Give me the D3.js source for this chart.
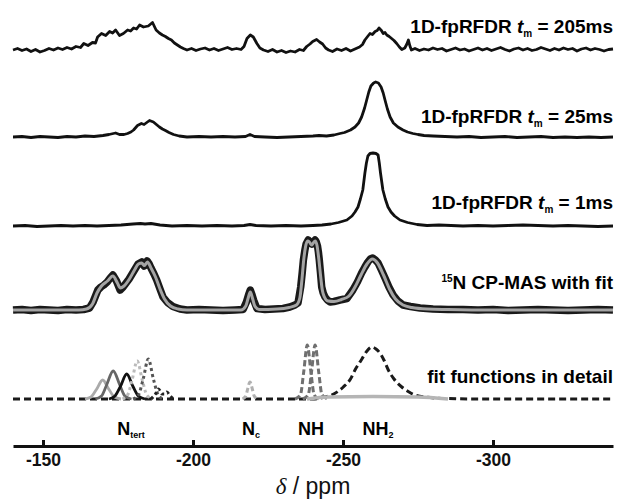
<!DOCTYPE html>
<html>
<head>
<meta charset="utf-8">
<script src="https://cdn.jsdelivr.net/npm/d3@7"></script>
<style>
  body { margin: 0; background: #fff; }
  svg { display: block; font-family: "Liberation Sans", Arial, sans-serif; }
</style>
</head>
<body>
<div id="chart"></div>
<script>
// chemical shift axis
const ppmDomain = [-140, -340];
const tickValues = [-150, -200, -250, -300];

// spectra: [ppm, intensity]
const spec205 = [[-140,0],[-141.5,1.5],[-143,-0.5],[-144.5,1],[-146,-1.5],[-147.5,0.5],[-149,-2],[-150.5,-0.5],[-152,1.5],[-153.5,0],[-155,2],[-156.5,0.5],[-158,2.5],[-159.5,1],[-161,3.5],[-162.5,2.5],[-163.6,6.5],[-165,4.5],[-166.5,7.5],[-167.5,7],[-168.2,13],[-169.5,16.5],[-170.9,14.5],[-172.2,18.5],[-173.2,17],[-174.2,20],[-175.5,14.5],[-176.8,16.5],[-178.2,20],[-179.2,19],[-180.2,22],[-181.2,21],[-182.2,25],[-183.5,23],[-185.1,24],[-186.5,27.5],[-187.7,20],[-188.8,17],[-189.8,15],[-190.8,13.5],[-191.8,11.5],[-192.8,10],[-193.8,7],[-194.8,5],[-195.8,3],[-196.8,1.5],[-198,0],[-199.5,1.5],[-201,-0.5],[-202.5,1],[-204,2],[-205.5,0],[-207,1.5],[-208.5,-0.5],[-210,1],[-211.5,2.5],[-213,0.5],[-214.5,1.5],[-216,0.5],[-217,3.5],[-218,11.5],[-219.1,15],[-220.1,13],[-221.3,6.5],[-222.3,2],[-223.5,0],[-225,-1.5],[-226.5,0.5],[-228,-2],[-229.5,-0.5],[-231,-2.5],[-232.5,-1],[-234,-2],[-235.5,0.5],[-236.8,-0.5],[-237.9,3.5],[-239,6],[-239.9,8.5],[-241.2,10.5],[-242.2,8],[-243.2,6],[-244.2,2],[-245.2,0],[-246.5,-1.5],[-248,1],[-249.5,-0.5],[-251,1.5],[-252.5,-1],[-254,1],[-255.5,3],[-256.5,5.5],[-257.3,10],[-258.2,13.5],[-259,16.5],[-259.8,15.5],[-260.7,18.5],[-261.4,19.5],[-262,22],[-262.8,19.5],[-263.4,16.5],[-264,17.5],[-264.6,15],[-265.4,13.5],[-266.2,11.5],[-267,9.5],[-267.9,6.5],[-268.8,3],[-269.6,0.5],[-270.6,2],[-271.3,6],[-271.8,10],[-272.3,4],[-272.8,0],[-274,1.5],[-275.5,-0.5],[-277,1],[-278.5,0],[-280,2],[-281.5,0.5],[-283,1.5],[-284.5,-1],[-286,0.5],[-287.5,2],[-289,0],[-290.5,1],[-292,-1],[-293.5,0.5],[-295,2],[-296.5,0],[-298,1.5],[-299.5,-0.5],[-301,1],[-302.5,2.5],[-304,0.5],[-305.5,-1],[-307,1],[-308.5,2],[-310,0],[-311.5,1.5],[-313,-0.5],[-314.5,0.5],[-316,2.5],[-317.5,1],[-319,-0.5],[-320.5,1.5],[-322,0],[-323.5,2],[-325,0.5],[-326.5,1.5],[-328,-1],[-329.5,1],[-331,2],[-332.5,0],[-334,1.5],[-335.5,0.5],[-337,-1],[-338.5,0.5],[-340,1]];

const spec25 = [[-140,0],[-143,0.5],[-146,-0.5],[-149,0.5],[-152,0],[-155,-0.5],[-158,0.5],[-161,0],[-164,1],[-167,0.5],[-170,1.5],[-172,2.5],[-174.2,4],[-175.5,2.5],[-177,2.5],[-178.2,3.5],[-179.3,5],[-180.2,7],[-181.5,11.5],[-182.8,13.5],[-183.7,12.5],[-184.6,14.5],[-185.5,16.5],[-186.8,15],[-187.8,12.5],[-188.8,10],[-189.8,8],[-190.8,6.5],[-192,4.5],[-193.5,2.5],[-195.4,1],[-198,0],[-202,0.5],[-206,0],[-210,0.5],[-214,0],[-217.5,0.5],[-219,2.5],[-220.5,0.5],[-224,0],[-228,-0.5],[-232,0],[-236,0.5],[-240,1],[-242,1.5],[-244.5,1],[-247,2],[-249,3.5],[-250.5,4.5],[-252.5,7],[-254,10],[-255.2,14],[-256.2,20],[-257.2,29],[-257.9,37],[-258.6,45],[-259.3,51],[-260.2,54],[-260.9,55],[-261.8,54],[-262.7,50],[-263.4,44],[-264,37],[-264.8,28],[-265.7,20],[-266.8,14],[-268.3,10],[-270,7],[-271.5,5],[-273.3,3.5],[-275,2.5],[-277,1.5],[-280,1],[-284,0.5],[-288,0],[-292,0.5],[-296,-0.5],[-300,0],[-304,0.5],[-308,-0.5],[-312,0],[-316,0.5],[-320,-0.5],[-324,0],[-328,-0.5],[-332,0],[-336,-0.5],[-340,0]];

const spec1 = [[-140,0],[-144,0.5],[-148,-0.5],[-152,0],[-156,0.5],[-160,0],[-164,0.5],[-168,0],[-172,0.5],[-176,1],[-180,2],[-182.5,2.5],[-184,2],[-186,2.5],[-189,1],[-193,0],[-198,0.5],[-203,0],[-208,0.5],[-213,0],[-217,0.5],[-219,1.5],[-221,0.5],[-226,0],[-231,0.5],[-236,0],[-240,0.5],[-243,1],[-246,2],[-248.5,3.5],[-251.3,6],[-253,10],[-254,14],[-255,19],[-255.8,27],[-256.6,36],[-257.3,53],[-257.8,63],[-258.3,70],[-259,72.5],[-260,73],[-261,72.5],[-261.7,71],[-262.1,63],[-262.5,53],[-263.3,36],[-264.1,27],[-265,19],[-266,14],[-267.2,10],[-269,6],[-271.5,3.5],[-274.7,1.5],[-278,0.5],[-282,1],[-286,0.5],[-290,0],[-295,0.5],[-300,0],[-305,0.5],[-310,1],[-315,0.5],[-320,0],[-325,0.5],[-330,0],[-335,-0.5],[-340,0]];

const specCP = [[-140,0],[-143,0.5],[-146,-0.5],[-149,0.5],[-152,0],[-155,-0.5],[-158,0.5],[-161,0],[-163.5,0.5],[-165.5,2],[-166.7,8],[-167.5,14],[-168.3,20],[-169.3,23],[-170.3,25],[-171.4,28],[-172.4,32],[-173.3,35],[-174.5,29],[-175.7,20],[-176.7,23],[-177.7,27],[-178.7,31],[-179.7,36],[-180.7,41],[-181.7,46],[-182.9,48],[-183.7,44],[-184.7,49],[-185.4,46],[-186,42],[-187,36],[-187.9,30],[-189,21],[-190,13],[-191.5,7.5],[-193.3,3.5],[-195.7,1],[-198,0],[-202,0.5],[-206,0],[-210,-0.5],[-214,0],[-216.7,0.5],[-217.8,8],[-218.5,15],[-219.1,20],[-219.7,15],[-220.2,10],[-221.3,1.5],[-224,0.5],[-227,1],[-230,1.5],[-232.3,3],[-234,5],[-235,7],[-235.9,23],[-236.4,37],[-236.8,50],[-237.3,60],[-237.7,66],[-238.4,70],[-239,68],[-239.6,66],[-240.1,68],[-240.7,70],[-241.1,68],[-241.5,64],[-241.8,58],[-242.1,50],[-242.5,37],[-242.9,23],[-243.4,17],[-244,13],[-244.8,10],[-245.7,8],[-247,8.5],[-249,10],[-251.3,11.5],[-253.3,20],[-254.8,28],[-256.2,37],[-257.3,43],[-258.3,48],[-259.1,51],[-259.9,52],[-260.8,50],[-261.7,47],[-262.8,40],[-264,32],[-265.3,23],[-266.7,15],[-268.3,9],[-270,5],[-272.5,3.5],[-275.7,2],[-280,1],[-285,0.5],[-290,0.5],[-295,0],[-300,0.5],[-305,-0.5],[-310,0],[-315,0.5],[-320,0],[-325,-0.5],[-330,0],[-335,0.5],[-340,0]];

const cpFit = [[-140,0],[-162,0],[-164.5,1],[-166.5,6],[-168,17],[-169.5,24],[-171.5,29],[-173.3,34],[-174.8,27],[-175.8,22],[-177,24],[-178.8,31],[-180.5,40],[-181.8,46],[-182.9,47],[-183.8,44.5],[-184.8,48],[-186,42],[-187.5,33],[-189,21],[-190.5,11],[-192.5,4],[-195,1],[-198,0],[-216,0],[-217.6,4],[-218.3,11],[-219.1,18],[-219.9,11],[-220.6,4],[-222,0.5],[-228,1],[-232,2.5],[-234.5,5],[-235.6,12],[-236.3,30],[-236.9,50],[-237.5,63],[-238.2,69],[-238.8,68],[-239.5,65],[-240.1,67],[-240.7,69],[-241.3,65],[-241.9,52],[-242.5,35],[-243.1,20],[-243.8,13],[-245,9],[-247,8.5],[-249.5,10.5],[-252,14],[-254,23],[-256,35],[-258,46],[-259.8,51],[-261.5,47],[-263.5,35],[-265.5,21],[-267.5,11],[-270,5],[-273,2.5],[-278,1],[-285,0.5],[-300,0],[-340,0]];

// individual fit functions
const fitTert1 = [[-164,0],[-166,2],[-167.8,9.5],[-169.9,19],[-172,9.5],[-173.8,2],[-176,0]];
const fitTert2 = [[-167.5,0],[-169.5,3],[-171.2,14],[-173.4,28],[-175.6,14],[-177.3,3],[-179.5,0]];
const fitTert3 = [[-172,0],[-174,3],[-175.8,12.5],[-177.9,25],[-180,12.5],[-181.8,3],[-184,0]];
const fitTert4 = [[-176.5,0],[-178.2,4],[-179.7,19],[-181.4,38],[-183.1,19],[-184.6,4],[-186.5,0]];
const fitTert5 = [[-180,0],[-181.8,4],[-183.4,20],[-185.1,40],[-186.8,20],[-188.4,4],[-190,0]];
const fitTert6 = [[-186,0],[-187.5,5],[-188.5,10],[-189.7,5],[-190.5,5],[-191.3,7],[-192.3,3.5],[-193.5,0]];
const fitNc = [[-216.5,0],[-217.6,3],[-218.1,8.5],[-219,17],[-219.9,8.5],[-220.4,3],[-221.5,0]];
const fitNH1 = [[-234,0],[-235.8,4],[-236.9,27],[-238.1,54],[-239.3,27],[-240.4,4],[-242,0]];
const fitNH2 = [[-236.6,0],[-238.4,4],[-239.5,27],[-240.7,54],[-241.9,27],[-243,4],[-245,0]];
const fitAmino = [[-140,0],[-240,0],[-244,2],[-246.2,4],[-250.1,12],[-252.5,20],[-254,29],[-256.3,40],[-258,48],[-259.7,52],[-261,50],[-262.3,46],[-263.8,38],[-265.1,29],[-267,20],[-269.6,12],[-272,7],[-274,4],[-279,1.5],[-285,0.5],[-295,0],[-340,0]];
const fitBroad = [[-238,0],[-245,2],[-260,2.5],[-275,2],[-285,0]];

const traceLabels = ['205ms', '25ms', '1ms'];
const peakNames = [['N', 'tert'], ['N', 'c'], ['NH', ''], ['NH', '2']];
const peakPpm = [-179.3, -219.3, -239.3, -261.7];

// #region layout

const width = 624, height = 500;
const baselines = { t205: 50, t25: 137, t1: 226, cp: 310, fit: 399 };
const axisY = 446;

const x = d3.scaleLinear().domain(ppmDomain).range([13, 613]);

const svg = d3.select('#chart').append('svg')
  .attr('width', width)
  .attr('height', height);

function trace(points, base, color, strokeWidth, dash, curve) {
  const y = d3.scaleLinear().domain([0, 100]).range([base, base - 100]);
  const line = d3.line()
    .x(d => x(d[0]))
    .y(d => y(d[1]))
    .curve(curve || d3.curveLinear);
  svg.append('path')
    .datum(points)
    .attr('d', line)
    .attr('fill', 'none')
    .attr('stroke', color)
    .attr('stroke-width', strokeWidth)
    .attr('stroke-linejoin', 'round')
    .attr('stroke-dasharray', dash || null);
}

// #endregion

// stacked spectra
trace(spec205, baselines.t205, '#111', 2.8);
trace(spec25, baselines.t25, '#111', 2.8);
trace(spec1, baselines.t1, '#111', 2.8);
trace(specCP, baselines.cp, '#1a1a1a', 7.5);
trace(cpFit, baselines.cp, '#a4a4a4', 3, null, d3.curveMonotoneX);

// fit functions in detail
const smooth = d3.curveMonotoneX;
trace(fitAmino, baselines.fit, '#1a1a1a', 3, '7,4', smooth);
trace(fitNH1, baselines.fit, '#707070', 3, '6,3', smooth);
trace(fitNH2, baselines.fit, '#707070', 3, '6,3', smooth);
trace(fitNc, baselines.fit, '#b0b0b0', 3, '5,3', smooth);
trace(fitTert1, baselines.fit, '#aaaaaa', 2.8, null, smooth);
trace(fitTert2, baselines.fit, '#666666', 2.8, null, smooth);
trace(fitTert3, baselines.fit, '#111111', 2.8, null, smooth);
trace(fitTert4, baselines.fit, '#bbbbbb', 3, '3,3', smooth);
trace(fitTert5, baselines.fit, '#555555', 3, '3,3', smooth);
trace(fitTert6, baselines.fit, '#222222', 3, '3,3', smooth);
trace(fitBroad, baselines.fit, '#b5b5b5', 3.5, null, smooth);

// trace labels
const labelX = 613;
const labelFont = 19;

[baselines.t205 - 17, baselines.t25 - 14, baselines.t1 - 17].forEach((yy, i) => {
  const t = svg.append('text')
    .attr('x', labelX)
    .attr('y', yy)
    .attr('text-anchor', 'end')
    .attr('font-size', labelFont)
    .attr('font-weight', 'bold');
  t.append('tspan').text('1D-fpRFDR ');
  t.append('tspan').attr('font-style', 'italic').text('t');
  t.append('tspan').attr('font-size', 10).attr('dy', 4).text('m');
  t.append('tspan').attr('dy', -4).text(' = ' + traceLabels[i]);
});

const cpLabel = svg.append('text')
  .attr('x', labelX)
  .attr('y', baselines.cp - 21)
  .attr('text-anchor', 'end')
  .attr('font-size', labelFont)
  .attr('font-weight', 'bold');
cpLabel.append('tspan').attr('font-size', 10).attr('dy', -7).text('15');
cpLabel.append('tspan').attr('dy', 7).text('N CP-MAS with fit');

svg.append('text')
  .attr('x', labelX)
  .attr('y', baselines.fit - 16)
  .attr('text-anchor', 'end')
  .attr('font-size', labelFont)
  .attr('font-weight', 'bold')
  .text('fit functions in detail');

// peak assignments
peakNames.forEach((p, i) => {
  const t = svg.append('text')
    .attr('x', x(peakPpm[i]))
    .attr('y', axisY - 11)
    .attr('text-anchor', 'middle')
    .attr('font-size', 18)
    .attr('font-weight', 'bold');
  t.append('tspan').text(p[0]);
  if (p[1]) {
    t.append('tspan').attr('font-size', 9).attr('dy', 3).text(p[1]);
  }
});

// x axis
const axis = svg.append('g')
  .attr('transform', `translate(0,${axisY})`)
  .call(d3.axisBottom(x)
    .tickValues(tickValues)
    .tickFormat(d => String(d))
    .tickSizeInner(-6)
    .tickSizeOuter(0)
    .tickPadding(8));

axis.select('.domain').attr('stroke', '#111').attr('stroke-width', 3);
axis.selectAll('.tick line').attr('stroke', '#111').attr('stroke-width', 3);
axis.selectAll('.tick text')
  .attr('fill', '#111')
  .attr('font-size', 17.5)
  .attr('font-weight', 'bold')
  .attr('font-family', '"Liberation Sans", Arial, sans-serif');

const title = svg.append('text')
  .attr('x', (x.range()[0] + x.range()[1]) / 2)
  .attr('y', 494)
  .attr('text-anchor', 'middle')
  .attr('font-size', 23)
  .attr('fill', '#111');
title.append('tspan')
  .attr('font-family', '"Liberation Serif", "Times New Roman", serif')
  .attr('font-style', 'italic')
  .text('δ');
title.append('tspan').text(' / ppm');
</script>
</body>
</html>
